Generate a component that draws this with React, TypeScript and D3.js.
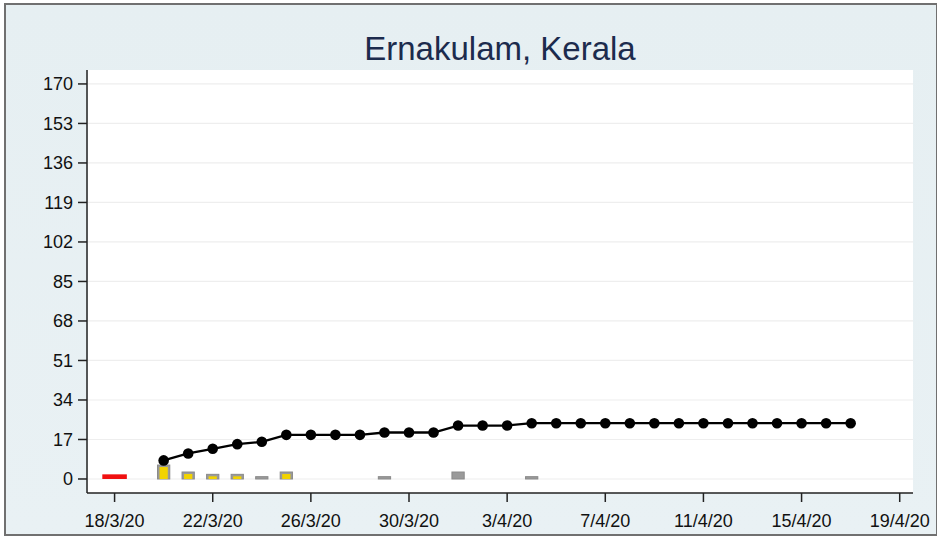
import React from "react";
import * as d3 from "d3";

const title = "Ernakulam, Kerala";
const yTicks = [0, 17, 34, 51, 68, 85, 102, 119, 136, 153, 170];
const xTickLabels = ["18/3/20", "22/3/20", "26/3/20", "30/3/20", "3/4/20", "7/4/20", "11/4/20", "15/4/20", "19/4/20"];

const lineDates = [
  "20/3/20", "21/3/20", "22/3/20", "23/3/20", "24/3/20", "25/3/20", "26/3/20", "27/3/20", "28/3/20", "29/3/20",
  "30/3/20", "31/3/20", "1/4/20", "2/4/20", "3/4/20", "4/4/20", "5/4/20", "6/4/20", "7/4/20", "8/4/20",
  "9/4/20", "10/4/20", "11/4/20", "12/4/20", "13/4/20", "14/4/20", "15/4/20", "16/4/20", "17/4/20",
];
const cumulative = [8, 11, 13, 15, 16, 19, 19, 19, 19, 20, 20, 20, 23, 23, 23, 24, 24, 24, 24, 24, 24, 24, 24, 24, 24, 24, 24, 24, 24];

const redDates = ["18/3/20"];
const redValues = [2];

const grayDates = ["20/3/20", "21/3/20", "22/3/20", "23/3/20", "24/3/20", "25/3/20", "29/3/20", "1/4/20", "4/4/20"];
const grayValues = [6, 3, 2, 2, 1, 3, 1, 3, 1];

const yellowDates = ["20/3/20", "21/3/20", "22/3/20", "23/3/20", "25/3/20"];
const yellowValues = [6, 3, 2, 2, 3];

const parse = d3.timeParse("%d/%m/%y");
const pd = (s: string) => parse(s) as Date;

export default function App() {
  const W = 937, H = 538;
  const plotL = 88, plotR = 913, plotT = 70, plotB = 493;
  const start = pd("18/3/20");
  const x = d3.scaleTime()
    .domain([d3.timeHour.offset(start, -25.2), d3.timeHour.offset(start, 32.55 * 24)])
    .range([plotL, plotR]);
  const y = d3.scaleLinear().domain([-6.03, 176]).range([plotB, plotT]);
  const dayW = x(d3.timeDay.offset(start, 1)) - x(start);
  const barW = dayW * 0.5;

  const linePts = lineDates.map((d, i) => [x(pd(d)), y(cumulative[i])] as [number, number]);
  const line = d3.line()(linePts) || "";

  const font = "'Liberation Sans', Arial, sans-serif";

  return (
    <svg width={W} height={H} style={{ position: "absolute", left: 0, top: 0 }}>
      <defs>
        <linearGradient id="bg" x1="0" y1="0" x2="0" y2="1">
          <stop offset="0" stopColor="#e6eff2" />
          <stop offset="1" stopColor="#e9f1f4" />
        </linearGradient>
      </defs>
      <rect x={0} y={0} width={W} height={H} fill="#ffffff" />
      <rect x={5} y={4} width={932} height={531} fill="url(#bg)" stroke="#707070" strokeWidth={2} />
      <rect x={plotL} y={plotT} width={plotR - plotL} height={plotB - plotT} fill="#ffffff" />
      {yTicks.map((t) => (
        <line key={"g" + t} x1={plotL} x2={plotR} y1={y(t)} y2={y(t)} stroke="#eeeeee" strokeWidth={1.2} />
      ))}
      <text x={500} y={60} textAnchor="middle" fontFamily={font} fontSize={33} fill="#1c2b4d">{title}</text>

      {redDates.map((d, i) => (
        <rect key={"r" + i} x={x(pd(d)) - dayW / 2} y={y(redValues[i])} width={dayW} height={y(0) - y(redValues[i])} fill="#f01010" />
      ))}
      {grayDates.map((d, i) => (
        <rect key={"gr" + i} x={x(pd(d)) - barW / 2} y={y(grayValues[i])} width={barW} height={y(0) - y(grayValues[i])}
          fill="#9a9a9a" stroke="#8a8a8a" strokeWidth={1} />
      ))}
      {yellowDates.map((d, i) => (
        <rect key={"ye" + i} x={x(pd(d)) - barW / 2 + 2} y={y(yellowValues[i]) + 2} width={barW - 4}
          height={Math.max(0, y(0) - y(yellowValues[i]) - 2)} fill="#f2d300" />
      ))}

      <path d={line} fill="none" stroke="#000" strokeWidth={2.3} />
      {linePts.map((p, i) => (
        <circle key={"c" + i} cx={p[0]} cy={p[1]} r={5.3} fill="#000" />
      ))}

      <line x1={plotL - 1} x2={plotL - 1} y1={plotT} y2={plotB} stroke="#222" strokeWidth={1.5} />
      {yTicks.map((t) => (
        <g key={"yt" + t}>
          <line x1={plotL - 10} x2={plotL - 1} y1={y(t)} y2={y(t)} stroke="#222" strokeWidth={1.5} />
          <text x={plotL - 15} y={y(t)} dy="0.35em" textAnchor="end" fontFamily={font} fontSize={18} fill="#111">{t}</text>
        </g>
      ))}
      <line x1={plotL - 1} x2={plotR} y1={plotB} y2={plotB} stroke="#222" strokeWidth={1.5} />
      {xTickLabels.map((s) => (
        <g key={"xt" + s}>
          <line x1={x(pd(s))} x2={x(pd(s))} y1={plotB} y2={plotB + 9} stroke="#222" strokeWidth={1.5} />
          <text x={x(pd(s))} y={527} textAnchor="middle" fontFamily={font} fontSize={18} fill="#111">{s}</text>
        </g>
      ))}
    </svg>
  );
}
